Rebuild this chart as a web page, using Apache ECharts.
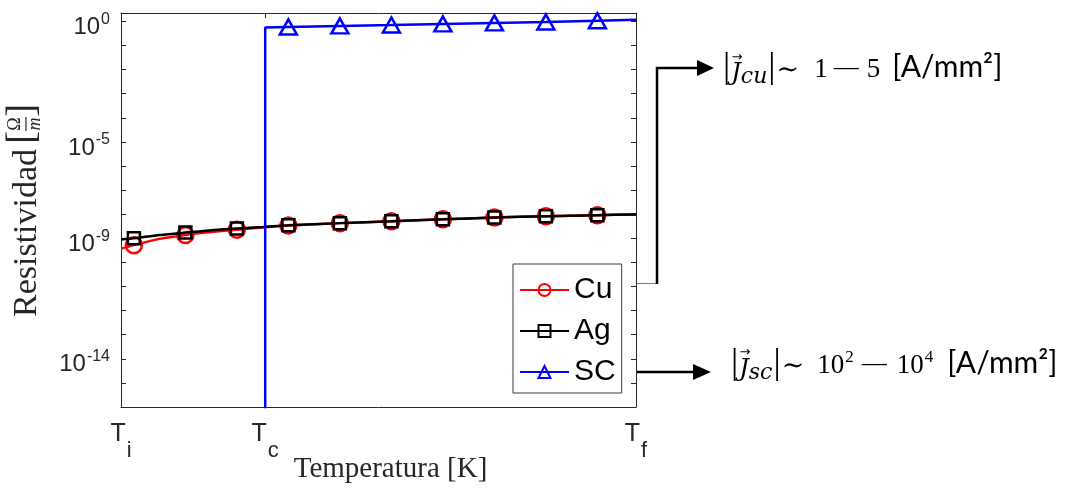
<!DOCTYPE html>
<html><head><meta charset="utf-8">
<script src="https://cdn.jsdelivr.net/npm/echarts@6/dist/echarts.min.js"></script>
<style>html,body{margin:0;padding:0;background:#fff}#c{width:1074px;height:494px}</style>
</head><body><div id="c"></div>
<script>
// ---- data (temperature in arbitrary units: Ti = 0, Tf = 100) ----
const temperature = [0, 2.5, 7.5, 12.5, 17.5, 22.5, 27.5, 32.5, 42.5, 52.5, 62.5, 72.5, 82.5, 92.5, 100];
const cuResistivity = [3.7e-10, 5.2e-10, 9.5e-10, 1.38e-9, 1.82e-9, 2.29e-9, 2.82e-9, 3.39e-9, 4.27e-9, 5.13e-9, 6.17e-9, 7.24e-9, 8.32e-9, 9.12e-9, 9.77e-9];
const agResistivity = [8.9e-10, 1.0e-9, 1.38e-9, 1.74e-9, 2.14e-9, 2.57e-9, 2.95e-9, 3.47e-9, 4.27e-9, 5.13e-9, 6.17e-9, 7.24e-9, 8.32e-9, 9.12e-9, 9.77e-9];
const markerTemps = [2.5, 12.5, 22.5, 32.5, 42.5, 52.5, 62.5, 72.5, 82.5, 92.5];
const scTemperature = [28, 28, 32.5, 42.5, 52.5, 62.5, 72.5, 82.5, 92.5, 100];
const scResistivity = [1e-20, 0.56, 0.59, 0.65, 0.71, 0.79, 0.87, 0.95, 1.07, 1.17];
const scMarkerTemps = [32.5, 42.5, 52.5, 62.5, 72.5, 82.5, 92.5];
const seriesNames = ['Cu', 'Ag', 'SC'];
const xTickValues = [0, 28, 100];
const xTickSubscripts = ['i', 'c', 'f'];
const yTickValues = [1e-16, 1e-15, 1e-14, 1e-13, 1e-12, 1e-11, 1e-10, 1e-9, 1e-8, 1e-7, 1e-6, 1e-5, 1e-4, 1e-3, 1e-2, 1e-1, 1];
const yLabelValues = [1, 1e-5, 1e-9, 1e-14];

function markData(ts, vs, marks, sym) {
  return ts.map((t, i) => ({ value: [t, vs[i]], symbol: (marks.indexOf(t) >= 0 && ts.lastIndexOf(t) === ts.indexOf(t)) ? sym : 'none' }));
}

const AX = '#262626';
const chart = echarts.init(document.getElementById('c'), null, { renderer: 'canvas' });

const textRich = {
  bar: { fontFamily: 'Liberation Serif', fontSize: 36, fill: '#000', verticalAlign: 'top', padding: [1, 0, 0, 0] },
  j: { fontFamily: 'DejaVu Serif', fontStyle: 'italic', fontSize: 24, fill: '#000', verticalAlign: 'top', padding: [13, 0, 0, 1] },
  sub: { fontFamily: 'DejaVu Serif', fontStyle: 'italic', fontSize: 22, fill: '#000', verticalAlign: 'top', padding: [17, 1, 0, 0] },
  op: { fontFamily: 'DejaVu Serif', fontSize: 27, fill: '#000', verticalAlign: 'top', padding: [8, 0, 0, 1] },
  n1: { fontFamily: 'Liberation Serif', fontSize: 27, fill: '#000', verticalAlign: 'top', padding: [7, 0, 0, 15] },
  n5: { fontFamily: 'Liberation Serif', fontSize: 27, fill: '#000', verticalAlign: 'top', padding: [7, 0, 0, 8] },
  nA: { fontFamily: 'Liberation Serif', fontSize: 27, fill: '#000', verticalAlign: 'top', padding: [7, 0, 0, 13] },
  nB: { fontFamily: 'Liberation Serif', fontSize: 27, fill: '#000', verticalAlign: 'top', padding: [7, 0, 0, 10] },
  minus: { fontFamily: 'Liberation Serif', fontSize: 25, fill: '#000', verticalAlign: 'top', padding: [7, 0, 0, 6] },
  minus2: { fontFamily: 'Liberation Serif', fontSize: 25, fill: '#000', verticalAlign: 'top', padding: [7, 0, 0, 8] },
  sup: { fontFamily: 'Liberation Serif', fontSize: 17, fill: '#000', verticalAlign: 'top', padding: [4, 0, 0, 1] },
  unit: { fontFamily: 'Lato', fontSize: 30, fill: '#000', verticalAlign: 'top', padding: [3, 0, 0, 12] },
  unit2: { fontFamily: 'Lato', fontSize: 30, fill: '#000', verticalAlign: 'top', padding: [3, 0, 0, 14] }
};

const option = {
  animation: false,
  backgroundColor: '#fff',
  grid: { left: 121, top: 13, width: 515, height: 394, outerBoundsMode: 'none' },
  xAxis: [{
    type: 'value', min: 0, max: 100, position: 'bottom',
    axisLine: { show: true, onZero: false, lineStyle: { color: AX, width: 1 } },
    axisTick: { show: true, inside: true, length: 5, customValues: xTickValues, lineStyle: { color: AX } },
    axisLabel: {
      customValues: xTickValues, margin: 15,
      formatter: v => '{t|T}{s|' + xTickSubscripts[xTickValues.indexOf(v)] + '}',
      rich: {
        t: { fontFamily: 'Liberation Sans', fontSize: 25, color: AX, verticalAlign: 'top' },
        s: { fontFamily: 'Liberation Sans', fontSize: 22, color: AX, verticalAlign: 'top', padding: [18, 0, 0, 1] }
      }
    },
    splitLine: { show: false },
    name: 'Temperatura [K]', nameLocation: 'middle', nameGap: 48, nameMoveOverlap: false,
    nameTextStyle: { fontFamily: 'Liberation Serif', fontSize: 29, color: AX, padding: [0, 0, 0, 24] }
  }, {
    type: 'value', min: 0, max: 100, position: 'top',
    axisLine: { show: true, onZero: false, lineStyle: { color: AX, width: 1 } },
    axisTick: { show: true, inside: true, length: 5, customValues: xTickValues, lineStyle: { color: AX } },
    axisLabel: { show: false }, splitLine: { show: false }
  }],
  yAxis: [{
    type: 'log', logBase: 10, min: 1e-16, max: 2.24, position: 'left',
    axisLine: { show: true, onZero: false, lineStyle: { color: AX, width: 1 } },
    axisTick: { show: true, inside: true, length: 5, customValues: yTickValues, lineStyle: { color: AX } },
    minorTick: { show: false },
    axisLabel: {
      customValues: yLabelValues, margin: 11, padding: [8, 0, 0, 0],
      formatter: v => '{b|10}{s|' + Math.round(Math.log10(v)) + '}',
      rich: {
        b: { fontFamily: 'Liberation Sans', fontSize: 24, color: AX, verticalAlign: 'top', padding: [4, 0, 0, 0] },
        s: { fontFamily: 'Liberation Sans', fontSize: 16, color: AX, verticalAlign: 'top', padding: [0, 0, 0, 1] }
      }
    },
    splitLine: { show: false }
  }, {
    type: 'log', logBase: 10, min: 1e-16, max: 2.24, position: 'right',
    axisLine: { show: true, onZero: false, lineStyle: { color: AX, width: 1 } },
    axisTick: { show: true, inside: true, length: 5, customValues: yTickValues, lineStyle: { color: AX } },
    minorTick: { show: false },
    axisLabel: { show: false }, splitLine: { show: false }
  }],
  legend: {
    orient: 'vertical', left: 513, top: 264,
    data: seriesNames,
    backgroundColor: '#fff', borderColor: '#3a3a3a', borderWidth: 1,
    padding: [11, 6, 6, 6], itemGap: 11, itemWidth: 49, itemHeight: 15,
    textStyle: { fontFamily: 'Liberation Sans', fontSize: 30, lineHeight: 30, color: '#000' }
  },
  series: [{
    name: 'Cu', type: 'line', xAxisIndex: 0, yAxisIndex: 0,
    data: markData(temperature, cuResistivity, markerTemps, 'circle'),
    symbol: 'circle', symbolSize: 16, showSymbol: true, smooth: 0.3,
    lineStyle: { color: '#ff0000', width: 2.5 },
    itemStyle: { color: 'rgba(255,255,255,0)', borderColor: '#ff0000', borderWidth: 2.5 },
    z: 2
  }, {
    name: 'Ag', type: 'line', xAxisIndex: 0, yAxisIndex: 0,
    data: markData(temperature, agResistivity, markerTemps, 'rect'),
    symbol: 'rect', symbolSize: 12, showSymbol: true, smooth: 0.3,
    lineStyle: { color: '#000000', width: 2.5 },
    itemStyle: { color: 'rgba(255,255,255,0)', borderColor: '#000000', borderWidth: 2.5 },
    z: 3
  }, {
    name: 'SC', type: 'line', xAxisIndex: 0, yAxisIndex: 0,
    data: markData(scTemperature, scResistivity, scMarkerTemps, 'triangle'),
    symbol: 'triangle', symbolSize: [17, 15], showSymbol: true,
    lineStyle: { color: '#0000ff', width: 2.5 },
    itemStyle: { color: 'rgba(255,255,255,0)', borderColor: '#0000ff', borderWidth: 2.5 },
    z: 4
  }],
  graphic: [
    // y axis title
    { type: 'group', x: 27, y: 211, rotation: Math.PI / 2, children: [
      { type: 'text', x: -106, y: 0, style: { text: 'Resistividad', font: '34px "Liberation Serif"', fill: AX, align: 'left', verticalAlign: 'middle' } },
      { type: 'text', x: 67, y: -4, style: { text: '[', font: '40px "Liberation Serif"', fill: AX, align: 'left', verticalAlign: 'middle' } },
      { type: 'text', x: 87, y: -12, style: { text: 'Ω', font: '18px "Liberation Serif"', fill: AX, align: 'center', verticalAlign: 'middle' } },
      { type: 'line', shape: { x1: 80, y1: -1, x2: 94, y2: -1 }, style: { stroke: AX, lineWidth: 1.2 } },
      { type: 'text', x: 87, y: 8, style: { text: 'm', font: 'italic 18px "Liberation Serif"', fill: AX, align: 'center', verticalAlign: 'middle' } },
      { type: 'text', x: 94, y: -4, style: { text: ']', font: '40px "Liberation Serif"', fill: AX, align: 'left', verticalAlign: 'middle' } }
    ]},
    // connectors and arrows
    { type: 'line', shape: { x1: 636, y1: 283.5, x2: 657, y2: 283.5 }, style: { stroke: '#4f7fd6', lineWidth: 1 } },
    { type: 'polyline', shape: { points: [[657, 284], [657, 68], [699, 68]] }, style: { stroke: '#000', lineWidth: 2.5, fill: null } },
    { type: 'polygon', shape: { points: [[697, 60], [714, 68], [697, 76]] }, style: { fill: '#000' } },
    { type: 'line', shape: { x1: 636, y1: 372, x2: 696, y2: 372 }, style: { stroke: '#000', lineWidth: 2.5 } },
    { type: 'polygon', shape: { points: [[693, 364], [711, 372], [693, 380]] }, style: { fill: '#000' } },
    // annotation texts
    { type: 'text', x: 723, y: 49, style: {
      text: '{bar||}{j|J}{sub|cu}{bar||}{op|∼}{n1|1}{minus|—}{n5|5}{unit|[A/mm²]}',
      verticalAlign: 'top', align: 'left', rich: textRich
    }},
    { type: 'text', x: 737, y: 58, style: { text: '→', font: '13px "DejaVu Sans"', fill: '#000', align: 'center', verticalAlign: 'middle' } },
    { type: 'text', x: 731, y: 345, style: {
      text: '{bar||}{j|J}{sub|sc}{bar||}{op|∼}{nA|10}{sup|2}{minus2|—}{nB|10}{sup|4}{unit2|[A/mm²]}',
      verticalAlign: 'top', align: 'left', rich: textRich
    }},
    { type: 'text', x: 745, y: 353, style: { text: '→', font: '13px "DejaVu Sans"', fill: '#000', align: 'center', verticalAlign: 'middle' } }
  ]
};
chart.setOption(option);
</script>
</body></html>
